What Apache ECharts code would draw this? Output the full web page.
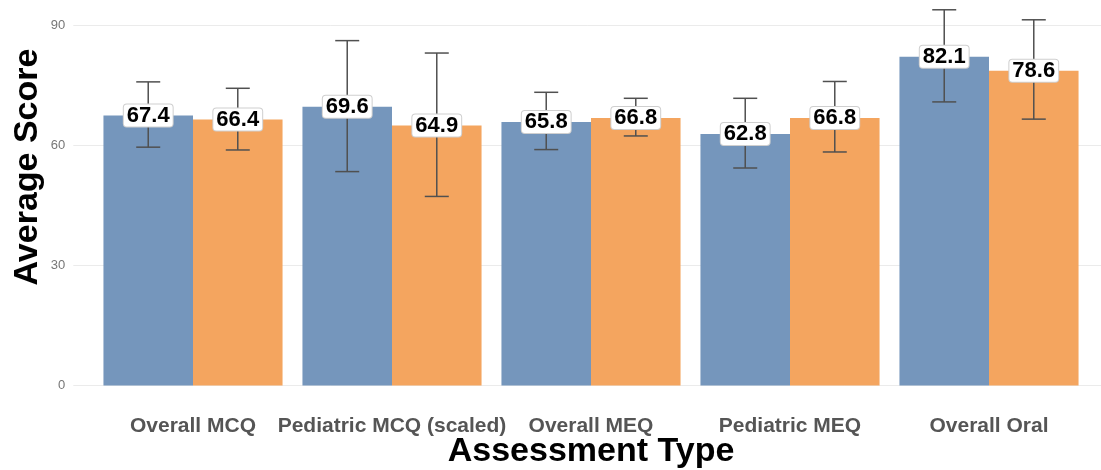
<!DOCTYPE html>
<html>
<head>
<meta charset="utf-8">
<script src="https://cdn.jsdelivr.net/npm/echarts@6/dist/echarts.min.js"></script>
<style>html,body{margin:0;padding:0;background:#fff}#c{width:1101px;height:470px}</style>
</head>
<body>
<div id="c"></div>
<script>
var categories = ['Overall MCQ', 'Pediatric MCQ (scaled)', 'Overall MEQ', 'Pediatric MEQ', 'Overall Oral'];
var seriesA = [67.4, 69.6, 65.8, 62.8, 82.1];
var seriesB = [66.4, 64.9, 66.8, 66.8, 78.6];
var lowA = [59.5, 53.4, 58.9, 54.3, 70.8];
var highA = [75.8, 86.1, 73.2, 71.7, 93.8];
var lowB = [58.8, 47.2, 62.3, 58.3, 66.5];
var highB = [74.2, 83.0, 71.7, 75.9, 91.3];
var yTicks = [0, 30, 60, 90];

var colorA = '#7596BC';
var colorB = '#F4A55F';

var errData = [];
for (var i = 0; i < categories.length; i++) {
  errData.push([i, 0, lowA[i], highA[i], seriesA[i]]);
  errData.push([i, 1, lowB[i], highB[i], seriesB[i]]);
}

function renderErr(params, api) {
  var ci = api.value(0), si = api.value(1);
  var band = api.size([1, 0])[0];
  var off = (si === 0 ? -1 : 1) * band * 0.225;
  var pLow = api.coord([ci, api.value(2)]);
  var pHigh = api.coord([ci, api.value(3)]);
  var pVal = api.coord([ci, api.value(4)]);
  var x = pLow[0] + off;
  var hw = 12;
  var ls = {stroke: '#505050', lineWidth: 1.5};
  return {
    type: 'group',
    children: [
      {type: 'line', shape: {x1: x, y1: pLow[1], x2: x, y2: pHigh[1]}, style: ls},
      {type: 'line', shape: {x1: x - hw, y1: pLow[1], x2: x + hw, y2: pLow[1]}, style: ls},
      {type: 'line', shape: {x1: x - hw, y1: pHigh[1], x2: x + hw, y2: pHigh[1]}, style: ls},
      {type: 'text', z2: 10, style: {
        text: api.value(4).toFixed(1), x: x, y: pVal[1],
        align: 'center', verticalAlign: 'middle',
        font: 'bold 22px "Liberation Sans", Arial, sans-serif', fill: '#000',
        lineHeight: 20,
        backgroundColor: '#fff', borderColor: '#cfcfcf', borderWidth: 1,
        borderRadius: 3, padding: [1, 3, 1, 3]
      }}
    ]
  };
}

var chart = echarts.init(document.getElementById('c'), null, {renderer: 'canvas'});
chart.setOption({
  animation: false,
  backgroundColor: '#fff',
  textStyle: {fontFamily: '"Liberation Sans", Arial, sans-serif'},
  grid: [
    {left: 93.5, right: 12.5, top: 25, bottom: 84.5},
    {left: 73.3, right: 0, top: 25, bottom: 84.5}
  ],
  xAxis: [
    {type: 'category', gridIndex: 0, data: categories,
     axisLine: {show: false}, axisTick: {show: false},
     axisLabel: {margin: 30, fontSize: 21, fontWeight: 'bold', color: '#555', interval: 0}},
    {type: 'value', gridIndex: 1, show: false, min: 0, max: 1}
  ],
  yAxis: [
    {type: 'value', gridIndex: 0, min: 0, max: 90, interval: 30, show: false, splitLine: {show: false}},
    {type: 'value', gridIndex: 1, min: 0, max: 90, interval: 30,
     axisLine: {show: false}, axisTick: {show: false},
     axisLabel: {margin: 8, fontSize: 13, color: '#777'},
     splitLine: {lineStyle: {color: '#ebebeb', width: 1}}}
  ],
  series: [
    {type: 'bar', xAxisIndex: 0, yAxisIndex: 0, data: seriesA, barGap: '0%', barCategoryGap: '10%',
     itemStyle: {color: colorA}, z: 2},
    {type: 'bar', xAxisIndex: 0, yAxisIndex: 0, data: seriesB, barGap: '0%', barCategoryGap: '10%',
     itemStyle: {color: colorB}, z: 2},
    {type: 'custom', xAxisIndex: 0, yAxisIndex: 0, data: errData, renderItem: renderErr,
     clip: false, z: 5, encode: {x: 0, y: [2, 3]}}
  ],
  graphic: [
    {type: 'text', x: 28, y: 167, rotation: Math.PI / 2,
     style: {text: 'Average Score', align: 'center', verticalAlign: 'middle',
       font: 'bold 34px "Liberation Sans", Arial, sans-serif', fill: '#000'}},
    {type: 'text', x: 591, y: 452,
     style: {text: 'Assessment Type', align: 'center', verticalAlign: 'middle',
       font: 'bold 34px "Liberation Sans", Arial, sans-serif', fill: '#000'}}
  ]
});
</script>
</body>
</html>
